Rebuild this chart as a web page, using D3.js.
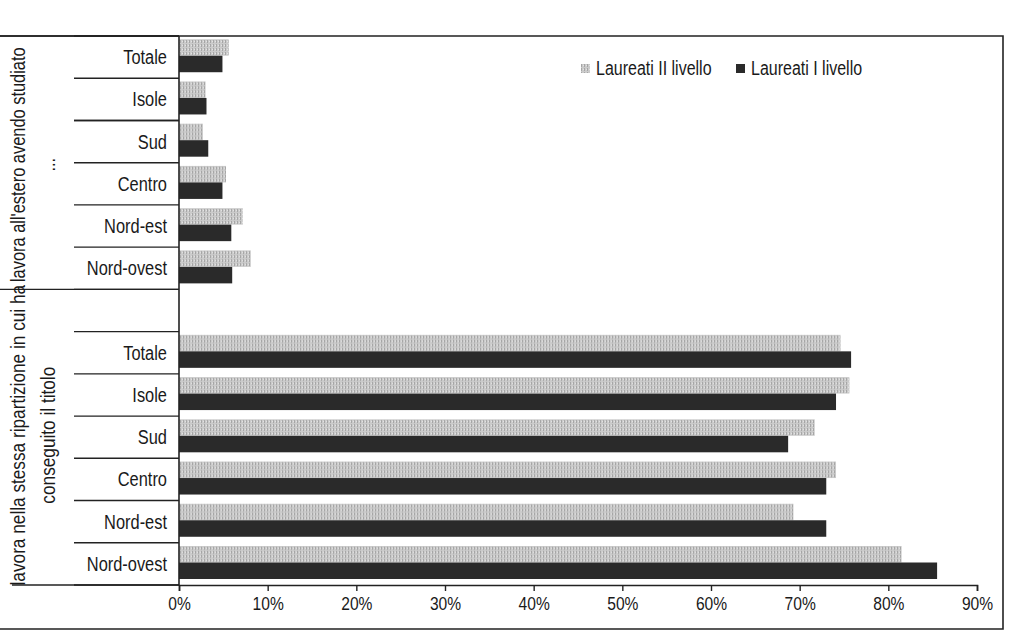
<!DOCTYPE html>
<html>
<head>
<meta charset="utf-8">
<script src="https://cdn.jsdelivr.net/npm/d3@7"></script>
<style>
  body { margin: 0; background: #fff; }
  text { font-family: "Liberation Sans", Arial, sans-serif; fill: #1a1a1a; }
</style>
</head>
<body>
<svg id="chart" width="1009" height="636"></svg>
<script>
// categories, top to bottom inside each group
const regions = ['Totale', 'Isole', 'Sud', 'Centro', 'Nord-est', 'Nord-ovest'];
const groupKeys = ['estero', 'stessa'];
const groupLabels = [
  ["lavora all'estero avendo studiato", '...'],
  ['lavora nella stessa ripartizione in cui ha', 'conseguito il titolo']
];
const seriesNames = ['Laureati II livello', 'Laureati I livello'];

// values (%), same order as regions
const esteroII = [5.6, 3.0, 2.7, 5.3, 7.2, 8.1];
const esteroI  = [4.9, 3.1, 3.3, 4.9, 5.9, 6.0];
const stessaII = [74.6, 75.6, 71.7, 74.1, 69.3, 81.5];
const stessaI  = [75.8, 74.1, 68.7, 73.0, 73.0, 85.5];

const xTicks = [0, 10, 20, 30, 40, 50, 60, 70, 80, 90];

const svg = d3.select('#chart');

// light stippled fill for the grey series
const defs = svg.append('defs');
const pat = defs.append('pattern')
  .attr('id', 'stipple')
  .attr('patternUnits', 'userSpaceOnUse')
  .attr('width', 3).attr('height', 4);
pat.append('rect').attr('width', 3).attr('height', 4).attr('fill', '#cbcbcb');
pat.append('rect').attr('x', 0).attr('y', 0).attr('width', 1).attr('height', 3).attr('fill', '#a6a6a6');
pat.append('rect').attr('x', 2).attr('y', 1).attr('width', 1).attr('height', 1).attr('fill', '#e4e4e4');

const colors = ['url(#stipple)', '#2a2a2a'];

// rows: upper group, an empty row, lower group
const rowKeys = [
  ...regions.map(r => 'estero|' + r),
  'gap',
  ...regions.map(r => 'stessa|' + r)
];

const x = d3.scaleLinear().domain([0, 90]).range([179, 977]);
const y = d3.scaleBand().domain(rowKeys).range([36, 585]);
const ys = d3.scaleBand().domain(seriesNames).range([0, y.bandwidth()]).paddingOuter(0.28).align(0.35);

const rows = [];
regions.forEach((r, i) => {
  rows.push({ key: 'estero|' + r, region: r, vals: [esteroII[i], esteroI[i]] });
  rows.push({ key: 'stessa|' + r, region: r, vals: [stessaII[i], stessaI[i]] });
});

// frame of the figure
svg.append('path')
  .attr('d', 'M0,36H1003V629H0')
  .attr('fill', 'none').attr('stroke', '#222').attr('stroke-width', 1.6);

// bars
const rowG = svg.selectAll('g.row').data(rows).join('g')
  .attr('class', 'row')
  .attr('transform', d => `translate(0,${y(d.key)})`);

rowG.selectAll('rect')
  .data(d => d.vals.map((v, j) => ({ v, s: seriesNames[j], j })))
  .join('rect')
  .attr('x', x(0))
  .attr('y', d => ys(d.s))
  .attr('width', d => x(d.v) - x(0))
  .attr('height', ys.bandwidth())
  .attr('fill', d => colors[d.j]);

// category labels
rowG.append('text')
  .attr('x', 167)
  .attr('y', y.bandwidth() / 2)
  .attr('dy', '0.35em')
  .attr('text-anchor', 'end')
  .attr('font-size', 20)
  .text(d => d.region);

// row separators in the label column
const sepYs = new Set();
rowKeys.forEach(k => { if (k !== 'gap') { sepYs.add(y(k)); sepYs.add(y(k) + y.bandwidth()); } });
svg.append('g').selectAll('line')
  .data([...sepYs])
  .join('line')
  .attr('x1', 74).attr('x2', 179)
  .attr('y1', d => d).attr('y2', d => d)
  .attr('stroke', '#222').attr('stroke-width', 1.4);

// group separators across the whole label column
const groupLinesY = [y(rowKeys[0]), y('gap'), y(rowKeys[rowKeys.length - 1]) + y.bandwidth()];
svg.append('g').selectAll('line')
  .data(groupLinesY)
  .join('line')
  .attr('x1', (d, i) => i === 2 ? 12 : 0).attr('x2', 179)
  .attr('y1', d => d).attr('y2', d => d)
  .attr('stroke', '#222').attr('stroke-width', 1.4);

// vertical group labels
const groupCenters = [
  (y('estero|Totale') + y('gap')) / 2 + 2,
  (y('gap') + y('stessa|Nord-ovest') + y.bandwidth()) / 2 - 2
];
const groupFont = [20, 21];
groupKeys.forEach((g, i) => {
  const t = svg.append('text')
    .attr('class', 'grp')
    .attr('transform', `translate(34,${groupCenters[i]}) rotate(-90)`)
    .attr('text-anchor', 'middle')
    .attr('font-size', groupFont[i]);
  groupLabels[i].forEach((line, k) => {
    t.append('tspan').attr('x', 0).attr('y', k === 0 ? -9 : 21).text(line);
  });
});

// axes
svg.append('line')
  .attr('x1', x(0)).attr('x2', x(0))
  .attr('y1', 36).attr('y2', 585)
  .attr('stroke', '#222').attr('stroke-width', 1.6);

const xAxis = svg.append('g')
  .attr('transform', 'translate(0,585)')
  .call(d3.axisBottom(x).tickValues(xTicks).tickFormat(d => d + '%').tickSize(6).tickSizeOuter(6));
xAxis.select('.domain').attr('stroke', '#222').attr('stroke-width', 1.6);
xAxis.selectAll('.tick line').attr('stroke', '#222').attr('stroke-width', 1.4);
xAxis.selectAll('.tick text')
  .attr('font-size', 19)
  .attr('font-family', '"Liberation Sans", Arial, sans-serif')
  .attr('fill', '#1a1a1a')
  .attr('y', 12);

// legend
const legend = svg.append('g').attr('transform', 'translate(581,64)');
const lx = [0, 155];
seriesNames.forEach((s, i) => {
  legend.append('rect').attr('x', lx[i]).attr('y', 0).attr('width', 9).attr('height', 9).attr('fill', colors[i]);
  legend.append('text').attr('x', lx[i] + 15).attr('y', 11).attr('font-size', 19.5).text(s);
});

// the print uses a narrow face: squeeze the text horizontally
const narrow = 0.82;
svg.selectAll('text').each(function () {
  const tspans = d3.select(this).selectAll('tspan');
  const targets = tspans.empty() ? [this] : tspans.nodes();
  targets.forEach(n => {
    const len = n.getComputedTextLength();
    d3.select(n).attr('textLength', len * narrow).attr('lengthAdjust', 'spacingAndGlyphs');
  });
});
</script>
</body>
</html>
